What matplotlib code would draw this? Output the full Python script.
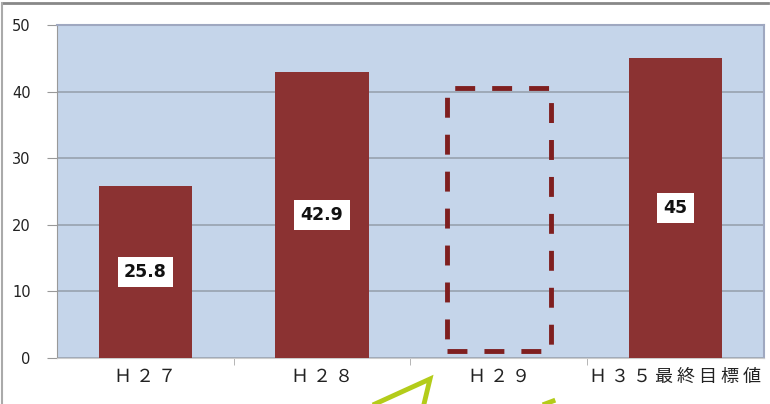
import matplotlib.pyplot as plt
from matplotlib.lines import Line2D

plt.rcParams['font.family'] = ['Noto Sans CJK JP', 'DejaVu Sans']

# データ
categories = ['Ｈ ２ ７', 'Ｈ ２ ８', 'Ｈ ２ ９', 'Ｈ ３ ５ 最 終 目 標 値']
values = [25.8, 42.9, None, 45]
# H29 は未確定のため点線の枠だけ
h29_top = 40.5
h29_bottom = 1.0

fig = plt.figure(figsize=(7.7, 4.04), dpi=100)
ax = fig.add_axes([0.074, 0.114, 0.918, 0.824])
ax.set_facecolor('#c5d5ea')

x = list(range(len(categories)))
bar_x = [i for i, v in zip(x, values) if v is not None]
bar_v = [v for v in values if v is not None]
bars = ax.bar(bar_x, bar_v, width=0.53, color='#8b3232', zorder=3)

# 棒の中央に数値
for bar, v in zip(bars, bar_v):
    ax.text(bar.get_x() + bar.get_width() / 2, v / 2, f'{v:g}',
            ha='center', va='center', fontsize=12.5, fontweight='bold',
            family='DejaVu Sans', color='#111111', zorder=4,
            bbox=dict(facecolor='white', edgecolor='none', pad=4.5))

# H29 の点線枠
ax.bar(2, h29_top - h29_bottom, bottom=h29_bottom, width=0.59,
       fill=False, edgecolor='#7f1f1f', linewidth=3.5,
       linestyle=(0, (4.1, 3.5)), zorder=3)

ax.set_xlim(-0.5, 3.5)
ax.set_ylim(0, 50)
ax.set_yticks(range(0, 51, 10))
ax.yaxis.grid(True, color='#98a2ae', linewidth=1.2, zorder=1)
ax.set_axisbelow(True)

ax.set_xticks(x)
ax.set_xticklabels(categories, fontsize=13, color='#222222')
ax.tick_params(axis='x', length=0, pad=7)
ax.set_xticks([0.5, 1.5, 2.5], minor=True)
ax.tick_params(axis='x', which='minor', length=5, color='#aaaaaa', direction='out')
ax.tick_params(axis='y', length=7, color='#999999', labelsize=10.5,
               labelcolor='#222222', pad=12)
for lab in ax.get_yticklabels():
    lab.set_family('DejaVu Sans')

for side in ['top', 'right']:
    ax.spines[side].set_color('#9fa8c0')
    ax.spines[side].set_linewidth(1.5)
ax.spines['left'].set_color('#999999')
ax.spines['bottom'].set_color('#cccccc')

# 外枠
fig.add_artist(Line2D([0.003, 0.997], [0.993, 0.993], color='#888888', linewidth=2,
                      transform=fig.transFigure))
fig.add_artist(Line2D([0.003, 0.003], [0.0, 0.993], color='#aaaaaa', linewidth=1.5,
                      transform=fig.transFigure))

# 下の緑の矢印（一部）
W, H = 770, 404
arrow_x = [375, 430, 424]
arrow_y = [404, 379, 404]
fig.add_artist(Line2D([p / W for p in arrow_x], [1 - p / H for p in arrow_y],
                      color='#b3cc1a', linewidth=3.5, solid_joinstyle='miter',
                      transform=fig.transFigure))
fig.add_artist(Line2D([545 / W, 553 / W], [1 - 404 / H, 1 - 401 / H],
                      color='#b3cc1a', linewidth=3.5, transform=fig.transFigure))

fig.savefig('out.png', dpi=100)
